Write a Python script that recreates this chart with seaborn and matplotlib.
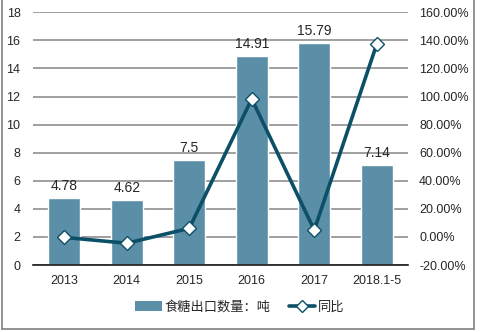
import numpy as np
import pandas as pd
import matplotlib
matplotlib.use("Agg")
import matplotlib.pyplot as plt
from matplotlib.lines import Line2D
from matplotlib.patches import Patch
import seaborn as sns

categories = ["2013", "2014", "2015", "2016", "2017", "2018.1-5"]
export_tons = [4.78, 4.62, 7.5, 14.91, 15.79, 7.14]
yoy_pct = [-0.3, -4.5, 6.1, 98.3, 4.9, 137.3]
left_ticks = [0, 2, 4, 6, 8, 10, 12, 14, 16, 18]
right_ticks = [-20, 0, 20, 40, 60, 80, 100, 120, 140, 160]

bar_label = "食糖出口数量：吨"
line_label = "同比"

bar_color = "#5b8fa7"
line_color = "#0c5068"
grid_color = "#858585"
text_color = "#262626"

sns.set_theme(style="white")
plt.rcParams["font.family"] = ["Liberation Sans", "Noto Sans CJK SC", "DejaVu Sans"]

df = pd.DataFrame({"year": categories, "tons": export_tons, "yoy": yoy_pct})

fig = plt.figure(figsize=(4.81, 3.32), dpi=100)
ax = fig.add_axes([33 / 481, 1 - 265 / 332, (408 - 33) / 481, (265 - 12.3) / 332])

sns.barplot(data=df, x="year", y="tons", color=bar_color, width=0.51,
            saturation=1, ax=ax, zorder=2)
ax.set_ylim(0, 18)
ax.set_yticks(left_ticks)
ax.set_xlim(-0.5, len(categories) - 0.5)
ax.yaxis.grid(True, color=grid_color, linewidth=1.1, zorder=0)
ax.set_axisbelow(True)
ax.set_xlabel("")
ax.set_ylabel("")
for s in ["top", "left", "right"]:
    ax.spines[s].set_visible(False)
ax.spines["bottom"].set_color("#1a1a1a")
ax.spines["bottom"].set_linewidth(1.2)
ax.tick_params(axis="y", length=0, pad=9, labelsize=9, labelcolor=text_color)
ax.tick_params(axis="x", length=0, pad=7, labelsize=9, labelcolor=text_color)

for i, v in enumerate(export_tons):
    ax.text(i, v + 0.35, f"{v:g}", ha="center", va="bottom",
            fontsize=10, color=text_color)

ax2 = ax.twinx()
sns.lineplot(x=np.arange(len(categories)), y=np.array(yoy_pct) / 100, ax=ax2,
             color=line_color, linewidth=2.6, marker="D", markersize=7,
             markerfacecolor="white", markeredgecolor=line_color,
             markeredgewidth=1.0, zorder=5)
ax2.set_ylim(-0.2, 1.6)
ax2.set_yticks(np.array(right_ticks) / 100)
ax2.set_yticklabels([f"{t:.2f}%" for t in right_ticks])
ax2.set_xlim(-0.5, len(categories) - 0.5)
ax2.set_ylabel("")
for s in ["top", "left", "right", "bottom"]:
    ax2.spines[s].set_visible(False)
ax2.tick_params(axis="y", length=0, pad=8, labelsize=9, labelcolor=text_color)
ax2.grid(False)

handles = [
    Patch(facecolor=bar_color, edgecolor="none"),
    Line2D([0], [0], color=line_color, linewidth=2.6, marker="D", markersize=6,
           markerfacecolor="white", markeredgecolor=line_color),
]
fig.legend(handles, [bar_label, line_label], loc="center",
           bbox_to_anchor=(240 / 481, 1 - 307 / 332), ncol=2, frameon=False,
           fontsize=9.5, handlelength=2.0, handleheight=0.75,
           columnspacing=1.4, handletextpad=0.2, labelcolor=text_color)

# outer frame (left, bottom, right)
for xs, ys in [([1.5 / 481, 1.5 / 481], [1 - 329.3 / 332, 1.0]),
               ([1.5 / 481, 474.3 / 481], [1 - 329.3 / 332, 1 - 329.3 / 332]),
               ([474.3 / 481, 474.3 / 481], [1 - 329.3 / 332, 1.0])]:
    fig.add_artist(Line2D(xs, ys, transform=fig.transFigure,
                          color="#808080", linewidth=1.2))

fig.savefig("out.png", dpi=100)
